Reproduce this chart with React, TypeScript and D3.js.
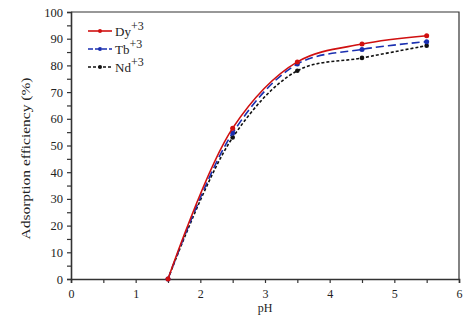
import React, { useEffect, useRef } from "react";
import * as d3 from "d3";

const phValues = [1.5, 2.5, 3.5, 4.5, 5.5];
const dyValues = [0, 56.5, 81.3, 88, 91.1];
const tbValues = [0, 54.7, 80.5, 86, 88.9];
const ndValues = [0, 53, 78, 82.8, 87.4];

const seriesNames = ["Dy", "Tb", "Nd"];
const xTicks = [0, 1, 2, 3, 4, 5, 6];
const yTicks = [0, 10, 20, 30, 40, 50, 60, 70, 80, 90, 100];

const W = 474;
const H = 320;

const App: React.FC = () => {
  const ref = useRef<SVGSVGElement | null>(null);

  useEffect(() => {
    if (!ref.current) return;
    const svg = d3.select(ref.current);
    svg.selectAll("*").remove();

    const margin = { top: 12, right: 15, bottom: 41, left: 71 };
    const width = W - margin.left - margin.right;
    const height = H - margin.top - margin.bottom;
    const font = "'Liberation Serif', 'Times New Roman', serif";

    const g = svg
      .append("g")
      .attr("transform", `translate(${margin.left},${margin.top})`);

    const x = d3.scaleLinear().domain([0, 6]).range([0, width]);
    const y = d3.scaleLinear().domain([0, 100]).range([height, 0]);

    // frame (top + right)
    g.append("path")
      .attr("d", `M0,0H${width}V${height}`)
      .attr("fill", "none")
      .attr("stroke", "#333")
      .attr("stroke-width", 1.2);

    // x axis
    const xAxis = g
      .append("g")
      .attr("transform", `translate(0,${height})`)
      .call(
        d3
          .axisBottom(x)
          .tickValues(d3.range(0, 6.01, 0.5))
          .tickSize(4)
          .tickFormat((d) => (xTicks.includes(+d) ? String(d) : ""))
      );
    xAxis.select(".domain").attr("stroke", "#333").attr("stroke-width", 1.6);
    xAxis.selectAll("line").attr("stroke", "#333").attr("stroke-width", 1.2);
    xAxis
      .selectAll("text")
      .attr("font-family", font)
      .attr("font-size", 12)
      .attr("fill", "#222")
      .attr("dy", "1em");

    // y axis
    const yAxis = g.append("g").call(
      d3
        .axisLeft(y)
        .tickValues(d3.range(0, 100.1, 5))
        .tickSize(4)
        .tickFormat((d) => (yTicks.includes(+d) ? String(d) : ""))
    );
    yAxis.select(".domain").attr("stroke", "#333").attr("stroke-width", 1.6);
    yAxis.selectAll("line").attr("stroke", "#333").attr("stroke-width", 1.2);
    yAxis
      .selectAll("text")
      .attr("font-family", font)
      .attr("font-size", 12.5)
      .attr("fill", "#222")
      .attr("x", -8);

    // axis titles
    g.append("text")
      .attr("x", width / 2)
      .attr("y", height + 33)
      .attr("text-anchor", "middle")
      .attr("font-family", font)
      .attr("font-size", 12)
      .attr("fill", "#222")
      .text("pH");

    g.append("text")
      .attr("transform", `translate(-41,${height / 2 + 13}) rotate(-90)`)
      .attr("text-anchor", "middle")
      .attr("font-family", font)
      .attr("font-size", 12)
      .attr("fill", "#222")
      .attr("textLength", 162)
      .attr("lengthAdjust", "spacingAndGlyphs")
      .text("Adsorption efficiency (%)");

    const series = [
      { name: seriesNames[0], values: dyValues, color: "#d01010", dash: null, r: 2.5 },
      { name: seriesNames[1], values: tbValues, color: "#1a2fb0", dash: "8,4", r: 2.5 },
      { name: seriesNames[2], values: ndValues, color: "#111", dash: "3,2", r: 2.3 },
    ];

    const line = d3
      .line<number>()
      .x((_, i) => x(phValues[i]))
      .y((d) => y(d))
      .curve(d3.curveCatmullRom.alpha(0.5));

    // draw back to front: Nd, Tb, Dy
    [...series].reverse().forEach((s) => {
      g.append("path")
        .datum(s.values)
        .attr("fill", "none")
        .attr("stroke", s.color)
        .attr("stroke-width", 1.6)
        .attr("stroke-dasharray", s.dash)
        .attr("d", line);
      g.selectAll(null)
        .data(s.values)
        .join("circle")
        .attr("cx", (_, i) => x(phValues[i]))
        .attr("cy", (d) => y(d))
        .attr("r", s.r)
        .attr("fill", s.color);
    });

    // legend
    const leg = g.append("g").attr("transform", "translate(17,19)");
    series.forEach((s, i) => {
      const row = leg.append("g").attr("transform", `translate(0,${i * 18})`);
      row
        .append("line")
        .attr("x1", 0)
        .attr("x2", 24)
        .attr("stroke", s.color)
        .attr("stroke-width", 1.6)
        .attr("stroke-dasharray", s.dash ? (i === 1 ? "5,2" : "3,2") : null);
      row.append("circle").attr("cx", 12).attr("r", 2).attr("fill", s.color);
      const t = row
        .append("text")
        .attr("x", 27)
        .attr("y", 5)
        .attr("font-family", font)
        .attr("font-size", 13)
        .attr("fill", "#222")
        .text(s.name);
      t.append("tspan")
        .attr("dy", -6)
        .attr("font-size", 12)
        .text("+3");
    });
  }, []);

  return (
    <svg
      ref={ref}
      width={W}
      height={H}
      style={{ display: "block", position: "absolute", left: 0, top: 0 }}
    />
  );
};

export default App;
